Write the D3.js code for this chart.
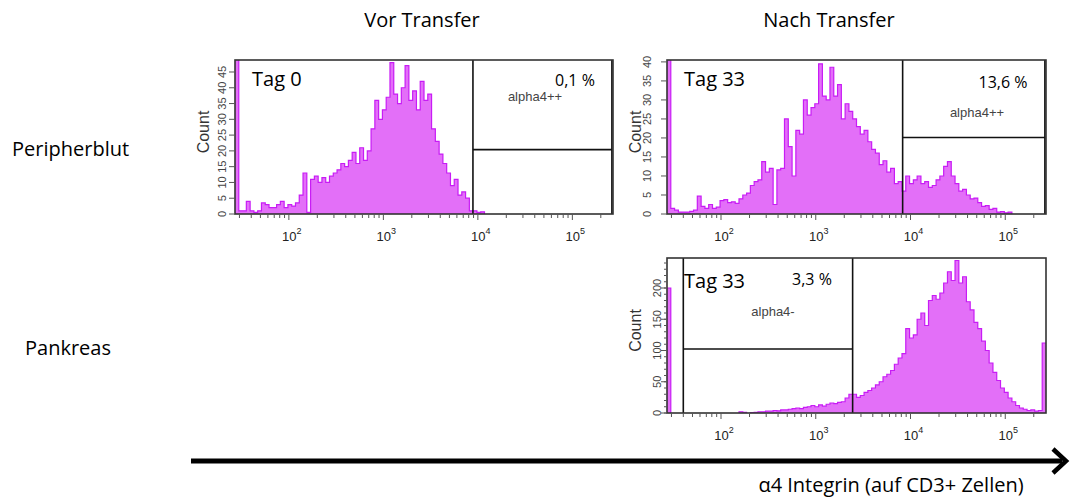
<!DOCTYPE html>
<html lang="de">
<head>
<meta charset="UTF-8">
<title>alpha4 Integrin vor und nach Transfer</title>
<script src="https://d3js.org/d3.v7.min.js"></script>
<style>
  body { margin: 0; background: #fff; }
  svg text { font-family: "Open Sans", "Lato", sans-serif; fill: #000; }
  .axis-num { font-family: "Liberation Sans", Arial, sans-serif; font-size: 11px; fill: #444; }
  .x-num { font-family: "Liberation Sans", Arial, sans-serif; font-size: 13px; fill: #222; }
  .count-lbl { font-family: "Liberation Sans", Arial, sans-serif; font-size: 16px; fill: #333; }
  .gate-name { font-family: "Liberation Sans", Arial, sans-serif; font-size: 13px; fill: #444; }
</style>
</head>
<body>
<svg id="chart" width="1070" height="497"></svg>
<script>
// histogram bins on log10 scale: first bin starts at 10^1.43, each bin 0.04 decades wide
const binStart = 1.43;
const binWidth = 0.04;

// Peripherblut, Tag 0
const blutTag0 = [
  80, 1, 1, 4, 1, 0.5, 1, 3.5, 3, 2,
  2, 3, 4, 2, 3, 2.5, 3.5, 6, 13, 0.5,
  11, 12, 10, 11.5, 10, 12, 13, 14, 16, 15,
  17, 19.5, 16, 21, 17, 20, 27, 36, 30, 33,
  37, 48, 38, 35, 40, 47, 36, 39, 33, 42,
  36, 38, 27, 23, 19, 16, 13, 9, 11, 6,
  7, 5, 1, 1, 0.5, 0.7, 0, 0, 0, 0,
  0, 0, 0, 0, 0, 0, 0, 0, 0, 0,
  0, 0, 0, 0, 0, 0, 0, 0, 0, 0,
  0, 0, 0, 0, 0, 0, 0, 0, 0, 0
];

// Peripherblut, Tag 33
const blutTag33 = [
  60, 1.5, 1, 0.5, 0.5, 0.5, 0.7, 1, 4.7, 2,
  1.5, 2.5, 1.5, 1.8, 3.5, 3.8, 3, 3.2, 2.8, 4,
  5, 5.5, 7.5, 8.5, 9, 13.8, 11, 12, 2.5, 11.6,
  12, 25, 17.7, 10, 22, 21, 30, 26, 28, 29,
  39.5, 31, 30, 38.6, 31, 34, 25, 29, 27, 25,
  23, 21, 22, 19, 17, 16, 13, 14, 11, 12,
  8, 8.5, 6, 10, 8, 9, 10, 8, 8.5, 7,
  7.5, 9, 10, 12.5, 13.8, 10, 8, 6, 6.5, 5,
  4, 4.2, 3, 2, 2.2, 1.2, 1.5, 0.5, 0.6, 0.3,
  0.5, 0, 0, 0, 0, 0, 0, 0, 0, 0
];

// Pankreas, Tag 33
const pankTag33 = [
  200, 0, 0, 0, 0, 0, 0, 0, 0, 0,
  0, 0, 0, 0, 0, 0, 0, 0, 0, 2,
  1, 0, 0.5, 1, 2, 2, 3, 3, 4, 3.5,
  5, 5, 6, 7, 8, 7, 9, 10, 12, 10,
  13, 11, 14, 16, 15, 17, 18, 24, 30, 30,
  25, 28, 33, 36, 40, 45, 50, 58, 62, 68,
  78, 88, 95, 135, 120, 125, 150, 160, 140, 180,
  188, 182, 192, 208, 226, 212, 244, 208, 218, 178,
  165, 145, 135, 115, 100, 80, 65, 52, 40, 33,
  24, 18, 12, 8, 6, 4, 5, 3, 4, 112
];

const yTicksBlut0 = [0, 5, 10, 15, 20, 25, 30, 35, 40, 45];
const yTicksBlut33 = [0, 5, 10, 15, 20, 25, 30, 35, 40];
const yTicksPank = [0, 50, 100, 150, 200];
const decades = [2, 3, 4, 5];

// gates: [x-start, x-end, split count]
const gateBlut0 = [8870, 262000, 20.4];
const gateBlut33 = [8260, 262000, 20.1];
const gatePank = [40, 2450, 102.4];

const svg = d3.select("#chart");

const panels = [
  { data: blutTag0, ymax: 48.8, ticks: yTicksBlut0, minor: null, gate: gateBlut0,
    left: 235, right: 613, top: 60, bottom: 214, tickX: 222, countX: 203,
    tag: "Tag 0", pct: "0,1 %", name: "alpha4++",
    pctPos: [575, 86], namePos: [535, 101] },
  { data: blutTag33, ymax: 40.5, ticks: yTicksBlut33, minor: null, gate: gateBlut33,
    left: 667, right: 1046, top: 60, bottom: 214, tickX: 647, countX: 635,
    tag: "Tag 33", pct: "13,6 %", name: "alpha4++",
    pctPos: [1003, 88], namePos: [977, 117] },
  { data: pankTag33, ymax: 248, ticks: yTicksPank, minor: 10, gate: gatePank,
    left: 667, right: 1046, top: 258, bottom: 413, tickX: 657, countX: 635,
    tag: "Tag 33", pct: "3,3 %", name: "alpha4-",
    pctPos: [812, 285], namePos: [773, 316] }
];

panels.forEach((p, k) => {
  const x = d3.scaleLog()
    .domain([Math.pow(10, binStart), Math.pow(10, binStart + binWidth * p.data.length)])
    .range([p.left, p.right]);
  const y = d3.scaleLinear().domain([0, p.ymax]).range([p.bottom, p.top]);

  const g = svg.append("g");

  g.append("clipPath").attr("id", "clip" + k)
    .append("rect")
    .attr("x", p.left).attr("y", p.top)
    .attr("width", p.right - p.left).attr("height", p.bottom - p.top);

  // step points, with a closing point at the end of the last bin
  const pts = p.data.map((v, i) => [Math.pow(10, binStart + binWidth * i), v]);
  pts.push([Math.pow(10, binStart + binWidth * p.data.length), p.data[p.data.length - 1]]);

  const hist = g.append("g").attr("clip-path", `url(#clip${k})`);
  hist.append("path")
    .datum(pts)
    .attr("fill", "#e36ff8")
    .attr("d", d3.area().curve(d3.curveStepAfter)
      .x(d => x(d[0])).y0(y(0)).y1(d => y(d[1])));
  hist.append("path")
    .datum(pts)
    .attr("fill", "none")
    .attr("stroke", "#c81cf5")
    .attr("stroke-width", 1.2)
    .attr("d", d3.line().curve(d3.curveStepAfter)
      .x(d => x(d[0])).y(d => y(d[1]) + (d[1] === 0 ? 2 : 0)));

  // gate
  const [g0, g1, gy] = p.gate;
  const gate = g.append("g").attr("stroke", "#111").attr("stroke-width", 1.6).attr("fill", "none");
  gate.append("line").attr("x1", x(g0)).attr("x2", x(g0)).attr("y1", p.top).attr("y2", p.bottom);
  gate.append("line").attr("x1", x(g1)).attr("x2", x(g1)).attr("y1", p.top).attr("y2", p.bottom);
  gate.append("line").attr("x1", x(g0)).attr("x2", x(g1)).attr("y1", y(gy)).attr("y2", y(gy));

  // frame
  g.append("rect")
    .attr("x", p.left).attr("y", p.top)
    .attr("width", p.right - p.left).attr("height", p.bottom - p.top)
    .attr("fill", "none").attr("stroke", "#333").attr("stroke-width", 1.6);

  // y ticks
  const yt = g.append("g").attr("stroke", "#555").attr("stroke-width", 1);
  if (p.minor) {
    d3.range(0, p.ymax, p.minor).forEach(v => {
      yt.append("line").attr("x1", p.left - 3).attr("x2", p.left).attr("y1", y(v)).attr("y2", y(v));
    });
  }
  p.ticks.forEach(v => {
    yt.append("line").attr("x1", p.left - 6).attr("x2", p.left).attr("y1", y(v)).attr("y2", y(v));
    g.append("text").attr("class", "axis-num")
      .attr("x", p.tickX).attr("y", y(v)).attr("dy", "0.35em")
      .attr("text-anchor", "middle")
      .attr("transform", `rotate(-90,${p.tickX},${y(v)})`)
      .text(v);
  });
  const cy = (p.top + p.bottom) / 2;
  g.append("text").attr("class", "count-lbl")
    .attr("x", p.countX).attr("y", cy - 5).attr("dy", "0.35em")
    .attr("text-anchor", "middle")
    .attr("transform", `rotate(-90,${p.countX},${cy - 5})`)
    .text("Count");

  // x ticks: minor 2..9 per decade, major at decades
  const xt = g.append("g").attr("stroke", "#555").attr("stroke-width", 1);
  const [lo, hi] = x.domain();
  d3.range(1, 6).forEach(d => {
    d3.range(1, 10).forEach(m => {
      const v = m * Math.pow(10, d);
      if (v < lo || v > hi) return;
      xt.append("line").attr("x1", x(v)).attr("x2", x(v))
        .attr("y1", p.bottom).attr("y2", p.bottom + (m === 1 ? 6 : 4));
    });
  });
  decades.forEach(d => {
    const t = g.append("text").attr("class", "x-num")
      .attr("x", x(Math.pow(10, d)) + 3).attr("y", p.bottom + 27)
      .attr("text-anchor", "middle");
    t.append("tspan").text("10");
    t.append("tspan").attr("dy", -7).attr("font-size", 9).text(d);
  });

  // labels inside panel
  g.append("text").attr("x", p.left + 17).attr("y", p.top + (k === 2 ? 30 : 26))
    .attr("font-size", 20).text(p.tag);
  g.append("text").attr("x", p.pctPos[0]).attr("y", p.pctPos[1])
    .attr("text-anchor", "middle").attr("font-size", 16).text(p.pct);
  g.append("text").attr("class", "gate-name")
    .attr("x", p.namePos[0]).attr("y", p.namePos[1])
    .attr("text-anchor", "middle").text(p.name);
});

// headings and row labels
svg.append("text").attr("x", 422).attr("y", 27).attr("text-anchor", "middle")
  .attr("font-size", 20).text("Vor Transfer");
svg.append("text").attr("x", 829).attr("y", 27).attr("text-anchor", "middle")
  .attr("font-size", 20).text("Nach Transfer");
svg.append("text").attr("x", 12).attr("y", 156).attr("font-size", 20).text("Peripherblut");
svg.append("text").attr("x", 25).attr("y", 355).attr("font-size", 20).text("Pankreas");

// arrow
svg.append("line").attr("x1", 191).attr("x2", 1062).attr("y1", 461).attr("y2", 461)
  .attr("stroke", "#000").attr("stroke-width", 5);
svg.append("polyline").attr("points", "1053,449 1066,461 1053,473")
  .attr("fill", "none").attr("stroke", "#000").attr("stroke-width", 4.5);
svg.append("text").attr("x", 891).attr("y", 492).attr("text-anchor", "middle")
  .attr("font-size", 20).text("α4 Integrin (auf CD3+ Zellen)");
</script>
</body>
</html>
